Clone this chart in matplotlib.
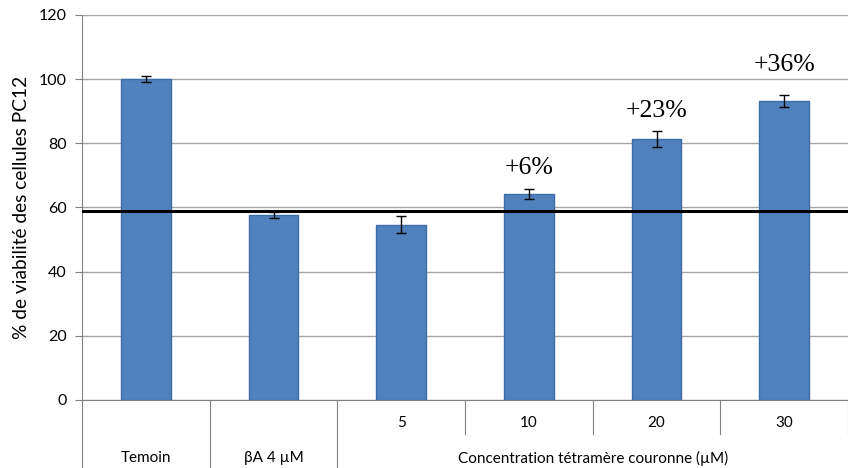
import matplotlib
matplotlib.use("Agg")
import matplotlib.pyplot as plt
import numpy as np

# ======================================================
# DATA
# ======================================================
groups = ["Temoin", "βA 4 µM", "5", "10", "20", "30"]
viability = [100, 57.7, 54.6, 64.2, 81.3, 93.2]
errors = [1.0, 0.9, 2.6, 1.7, 2.5, 1.9]
gains = ["", "", "", "+6%", "+23%", "+36%"]
gain_y = [None, None, None, 72.3, 90.0, 104.4]
ref_level = 59
sub_title = "Concentration tétramère couronne (µM)"

BAR_COLOR = "#4F81BD"
EDGE_COLOR = "#3B6DA6"

plt.rcParams["font.family"] = ["Lato", "DejaVu Sans"]

fig = plt.figure(figsize=(8.48, 4.68), dpi=100)
ax = fig.add_axes([0.0967, 0.1453, 0.9033, 0.8227])

x = np.arange(len(groups))
ax.bar(x, viability, width=0.39, color=BAR_COLOR, edgecolor=EDGE_COLOR,
       linewidth=1, zorder=2)
ax.errorbar(x, viability, yerr=errors, fmt="none", ecolor="black",
            elinewidth=1, capsize=3.5, capthick=1, zorder=3)

# ligne de référence
ax.axhline(ref_level, color="black", linewidth=2.2, zorder=4)

for xi, g, gy in zip(x, gains, gain_y):
    if g:
        ax.text(xi, gy, g, ha="center", va="center", fontsize=18.5,
                family="Liberation Serif")

# STYLE
ax.set_xlim(-0.5, len(groups) - 0.5)
ax.set_ylim(0, 120)
ax.set_yticks(range(0, 121, 20))
ax.tick_params(axis="y", labelsize=11.5, length=5, color="#808080", pad=6)
ax.set_xticks([])
ax.grid(axis="y", color="#A6A6A6", linewidth=1, zorder=0)
ax.set_axisbelow(True)
for s in ["top", "right"]:
    ax.spines[s].set_visible(False)
ax.spines["left"].set_color("#808080")
ax.spines["bottom"].set_color("#808080")
ax.set_ylabel("% de viabilité des cellules PC12", fontsize=13.8, labelpad=6)

# axe x à deux niveaux
trans = ax.get_xaxis_transform()
h_full = -68 / 385
h_half = -34 / 385
for b in [-0.5, 0.5, 1.5]:
    ax.plot([b, b], [0, h_full], transform=trans,
            color="#808080", linewidth=0.8, clip_on=False)
for b in [2.5, 3.5, 4.5, 5.5]:
    ax.plot([b, b], [0, h_half], transform=trans,
            color="#808080", linewidth=0.8, clip_on=False)
for xi in range(2, 6):
    ax.text(xi, -23 / 385, groups[xi], transform=trans, ha="center",
            va="center", fontsize=11)
for xi in range(0, 2):
    ax.text(xi, -58 / 385, groups[xi], transform=trans, ha="center",
            va="center", fontsize=11)
ax.text(3.5, -58 / 385, sub_title, transform=trans, ha="center",
        va="center", fontsize=11)

fig.savefig("out.png", dpi=100)
